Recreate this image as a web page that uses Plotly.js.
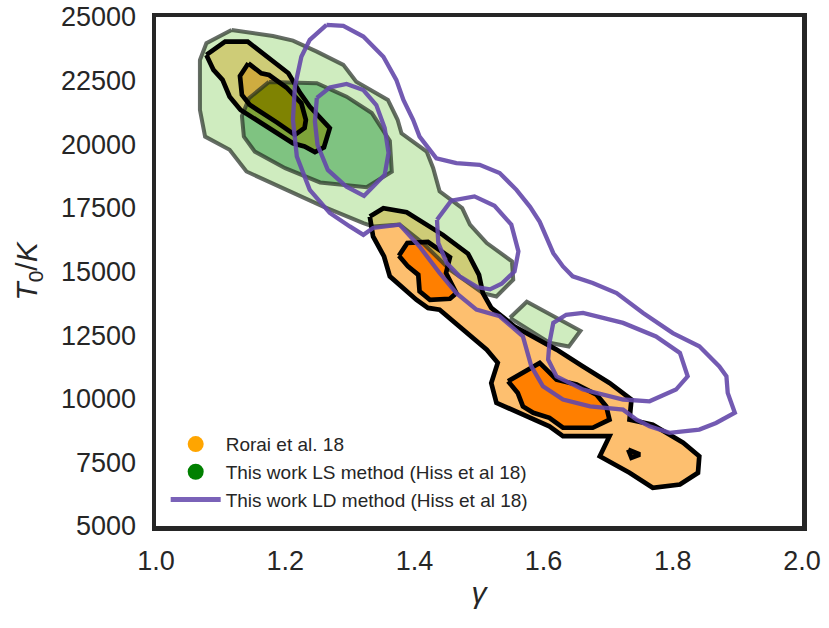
<!DOCTYPE html>
<html>
<head>
<meta charset="utf-8">
<script src="https://cdn.plot.ly/plotly-3.0.1.min.js"></script>
<style>html,body{margin:0;padding:0;background:#fff;}#chart{width:829px;height:628px;}</style>
</head>
<body>
<div id="chart"></div>
<script>
// ---- Data (gamma, T0 in K) ----
// Rorai et al. 18 : outer and inner contours
var roraiOuterAX = [1.078,1.107,1.142,1.205,1.223,1.238,1.269,1.260,1.246,1.230,1.212,1.176,1.131,1.114,1.103,1.089];
var roraiOuterAY = [23510,24030,24030,22790,22020,21480,20630,19880,19690,19910,20040,20600,21350,21870,22530,22920];
var roraiOuterCX = [1.331,1.352,1.388,1.444,1.483,1.500,1.506,1.519,1.555,1.620,1.661,1.702,1.736,1.733,1.769,1.816,1.841,1.839,1.811,1.769,1.733,1.687,1.702,1.630,1.609,1.573,1.527,1.519,1.529,1.512,1.475,1.439,1.421,1.403,1.362,1.353,1.336,1.332];
var roraiOuterCY = [17160,17490,17330,16440,15700,14870,14150,13570,12840,11930,11270,10620,9970,9180,8980,8270,7740,7090,6630,6500,7090,7740,8530,8530,8920,9310,9840,10620,11410,11930,12710,13500,13570,13890,14810,15590,16380,16840];
var roraiInnerBX = [1.143,1.163,1.175,1.202,1.225,1.232,1.230,1.215,1.187,1.145,1.133,1.130];
var roraiInnerBY = [23180,22790,22720,22230,21610,20960,20640,20370,20860,21550,21940,22680];
var roraiInnerDX = [1.376,1.389,1.421,1.455,1.449,1.465,1.455,1.424,1.408,1.406,1.390];
var roraiInnerDY = [15620,16120,16160,15560,14940,14150,13930,13890,14220,14870,15200];
var roraiInnerEX = [1.545,1.594,1.620,1.651,1.682,1.697,1.702,1.676,1.630,1.609,1.584,1.568,1.560];
var roraiInnerEY = [10690,11410,10750,10560,10160,9700,9180,8860,8860,9250,9450,9700,10230];
var roraiInnerFX = [1.731,1.749,1.736];
var roraiInnerFY = [8000,7810,7680];

// This work, LS method : outer band, inner region, small island
var lsOuterX = [1.117,1.181,1.212,1.249,1.290,1.310,1.359,1.374,1.380,1.419,1.429,1.439,1.474,1.486,1.512,1.551,1.553,1.527,1.506,1.455,1.413,1.377,1.336,1.321,1.259,1.197,1.140,1.114,1.076,1.068,1.067,1.068,1.078];
var lsOuterY = [24490,24250,24070,23640,23120,22460,21740,20960,20430,19710,19070,18150,17490,16840,16120,15400,14680,14020,14150,15070,16120,16840,16770,16900,17550,18280,18930,19780,20300,21350,22660,23310,23970];
var lsIslandX = [1.548,1.574,1.657,1.639,1.609];
var lsIslandY = [13180,13810,12670,12050,12200];
var lsInnerX = [1.175,1.249,1.295,1.334,1.362,1.365,1.326,1.254,1.200,1.153,1.136,1.133,1.144];
var lsInnerY = [22450,22400,21870,21230,20130,18920,18310,18500,19060,19710,20300,21110,21810];

// This work, LD method : outer contour and three inner lobes
var ldOuterX = [1.264,1.290,1.321,1.352,1.372,1.383,1.398,1.408,1.434,1.465,1.501,1.532,1.558,1.579,1.594,1.605,1.615,1.630,1.645,1.676,1.713,1.754,1.800,1.841,1.872,1.883,1.885,1.896,1.867,1.841,1.795,1.764,1.744,1.723,1.672,1.630,1.599,1.581,1.568,1.532,1.496,1.465,1.439,1.408,1.377,1.336,1.321,1.300,1.269,1.238,1.218,1.212,1.215,1.225,1.238];
var ldOuterY = [24690,24650,24230,23440,22530,21740,20960,20300,19450,19260,19190,18870,18210,17540,16950,16310,15720,15200,14810,14550,14150,13370,12580,12060,11270,10880,10230,9450,9050,8790,8660,8920,9180,9570,9700,9970,10490,11270,12450,13240,13500,14150,14940,15980,16840,16710,16440,16770,17300,18210,19520,20960,22260,23440,24100];
var ldInnerUX = [1.249,1.269,1.295,1.321,1.341,1.354,1.360,1.354,1.322,1.295,1.266,1.250,1.246];
var ldInnerUY = [21820,22230,22370,22130,21540,20640,19660,18800,17970,18330,18990,19980,20890];
var ldInnerMX = [1.435,1.457,1.493,1.524,1.550,1.561,1.555,1.535,1.517,1.498,1.470,1.450,1.437];
var ldInnerMY = [17030,17780,17950,17580,16840,15790,15000,14520,14300,14380,14810,15330,16120];
var ldInnerLX = [1.609,1.607,1.620,1.661,1.723,1.764,1.805,1.823,1.811,1.774,1.723,1.661,1.635,1.615];
var ldInnerLY = [12190,11540,10880,10360,9970,9900,10360,10880,11800,12450,12980,13370,13300,12980];

var legendNames = ['Rorai et al. 18', 'This work LS method (Hiss et al 18)', 'This work LD method (Hiss et al 18)'];
var xTicks = [1.0, 1.2, 1.4, 1.6, 1.8, 2.0];
var yTicks = [5000, 7500, 10000, 12500, 15000, 17500, 20000, 22500, 25000];

// ---- helpers ----
function closed(a) { return a.concat([a[0]]); }
function joinParts(parts) {
  var out = [];
  parts.forEach(function (p, i) { if (i) out.push(null); out = out.concat(p); });
  return out;
}
function rev(a) { return a.slice().reverse(); }

var LIGHT_OR = '#fdbf6f', DARK_OR = '#ff7f00';
var GREEN_OUT = 'rgba(160,218,128,0.5)', GREEN_IN = 'rgba(0,136,4,0.5)';
var GREEN_EDGE = 'rgba(35,45,35,0.7)';
var PURPLE = 'rgba(100,72,170,0.9)';

var traces = [];
function fillTrace(xs, ys, color) {
  return {x: xs, y: ys, type: 'scatter', mode: 'lines', fill: 'toself', fillcolor: color,
    line: {width: 0, color: color}, hoverinfo: 'skip', showlegend: false};
}
function lineTrace(xs, ys, color, w) {
  return {x: xs, y: ys, type: 'scatter', mode: 'lines', line: {width: w, color: color},
    hoverinfo: 'skip', showlegend: false};
}

// Rorai fills
traces.push(fillTrace(joinParts([roraiOuterAX, roraiOuterCX]), joinParts([roraiOuterAY, roraiOuterCY]), LIGHT_OR));
traces.push(fillTrace(joinParts([roraiInnerBX, roraiInnerDX, roraiInnerEX, roraiInnerFX]),
                      joinParts([roraiInnerBY, roraiInnerDY, roraiInnerEY, roraiInnerFY]), DARK_OR));
// LS fills (outer band has a hole where the inner region is)
traces.push(fillTrace(joinParts([lsOuterX, rev(lsInnerX), lsIslandX]), joinParts([lsOuterY, rev(lsInnerY), lsIslandY]), GREEN_OUT));
traces.push(fillTrace(lsInnerX, lsInnerY, GREEN_IN));
// LS edges
traces.push(lineTrace(joinParts([closed(lsOuterX), closed(lsInnerX), closed(lsIslandX)]),
                      joinParts([closed(lsOuterY), closed(lsInnerY), closed(lsIslandY)]), GREEN_EDGE, 4));
// Rorai edges
traces.push(lineTrace(
  joinParts([closed(roraiOuterAX), closed(roraiOuterCX), closed(roraiInnerBX), closed(roraiInnerDX), closed(roraiInnerEX), closed(roraiInnerFX)]),
  joinParts([closed(roraiOuterAY), closed(roraiOuterCY), closed(roraiInnerBY), closed(roraiInnerDY), closed(roraiInnerEY), closed(roraiInnerFY)]),
  '#000000', 4.7));
// LD contours
traces.push(lineTrace(
  joinParts([closed(ldOuterX), closed(ldInnerUX), closed(ldInnerMX), closed(ldInnerLX)]),
  joinParts([closed(ldOuterY), closed(ldInnerUY), closed(ldInnerMY), closed(ldInnerLY)]),
  PURPLE, 4.3));

// legend entries
traces.push({x: [null], y: [null], type: 'scatter', mode: 'markers', name: legendNames[0],
  marker: {color: '#ffa500', size: 19, symbol: 'circle'}, hoverinfo: 'skip'});
traces.push({x: [null], y: [null], type: 'scatter', mode: 'markers', name: legendNames[1],
  marker: {color: '#008000', size: 19, symbol: 'circle'}, hoverinfo: 'skip'});
traces.push({x: [null], y: [null], type: 'scatter', mode: 'lines', name: legendNames[2],
  line: {color: '#7a62b8', width: 5}, hoverinfo: 'skip'});

var FONT = 'Liberation Sans, Arial, sans-serif';
var layout = {
  width: 829, height: 628,
  margin: {l: 156, r: 27, t: 17, b: 102, pad: 0},
  paper_bgcolor: '#ffffff', plot_bgcolor: '#ffffff',
  font: {family: FONT, color: '#262626'},
  showlegend: true,
  legend: {x: 0.015, y: 0.198, xanchor: 'left', yanchor: 'top', bgcolor: 'rgba(0,0,0,0)',
    font: {size: 19, color: '#262626', family: FONT}, itemwidth: 50, tracegroupgap: 0},
  xaxis: {range: [1, 2], tickvals: xTicks, tickformat: '.1f', showgrid: false, zeroline: false,
    showline: true, mirror: true, linecolor: '#262626', linewidth: 4.5, ticks: '',
    tickfont: {size: 27, color: '#262626', family: FONT}, ticklabelstandoff: 7,
    title: {text: '<i>γ</i>', font: {size: 30, color: '#262626', family: FONT}, standoff: 8}},
  yaxis: {range: [5000, 25000], tickvals: yTicks, tickformat: 'd', showgrid: false, zeroline: false,
    showline: true, mirror: true, linecolor: '#262626', linewidth: 4.5, ticks: '',
    tickfont: {size: 27, color: '#262626', family: FONT}, ticklabelstandoff: 10,
    title: {text: '<i>T</i><sub>0</sub>/<i>K</i>', font: {size: 30, color: '#262626', family: FONT}, standoff: 16}}
};

Plotly.newPlot('chart', traces, layout, {staticPlot: true, displayModeBar: false});
</script>
</body>
</html>
